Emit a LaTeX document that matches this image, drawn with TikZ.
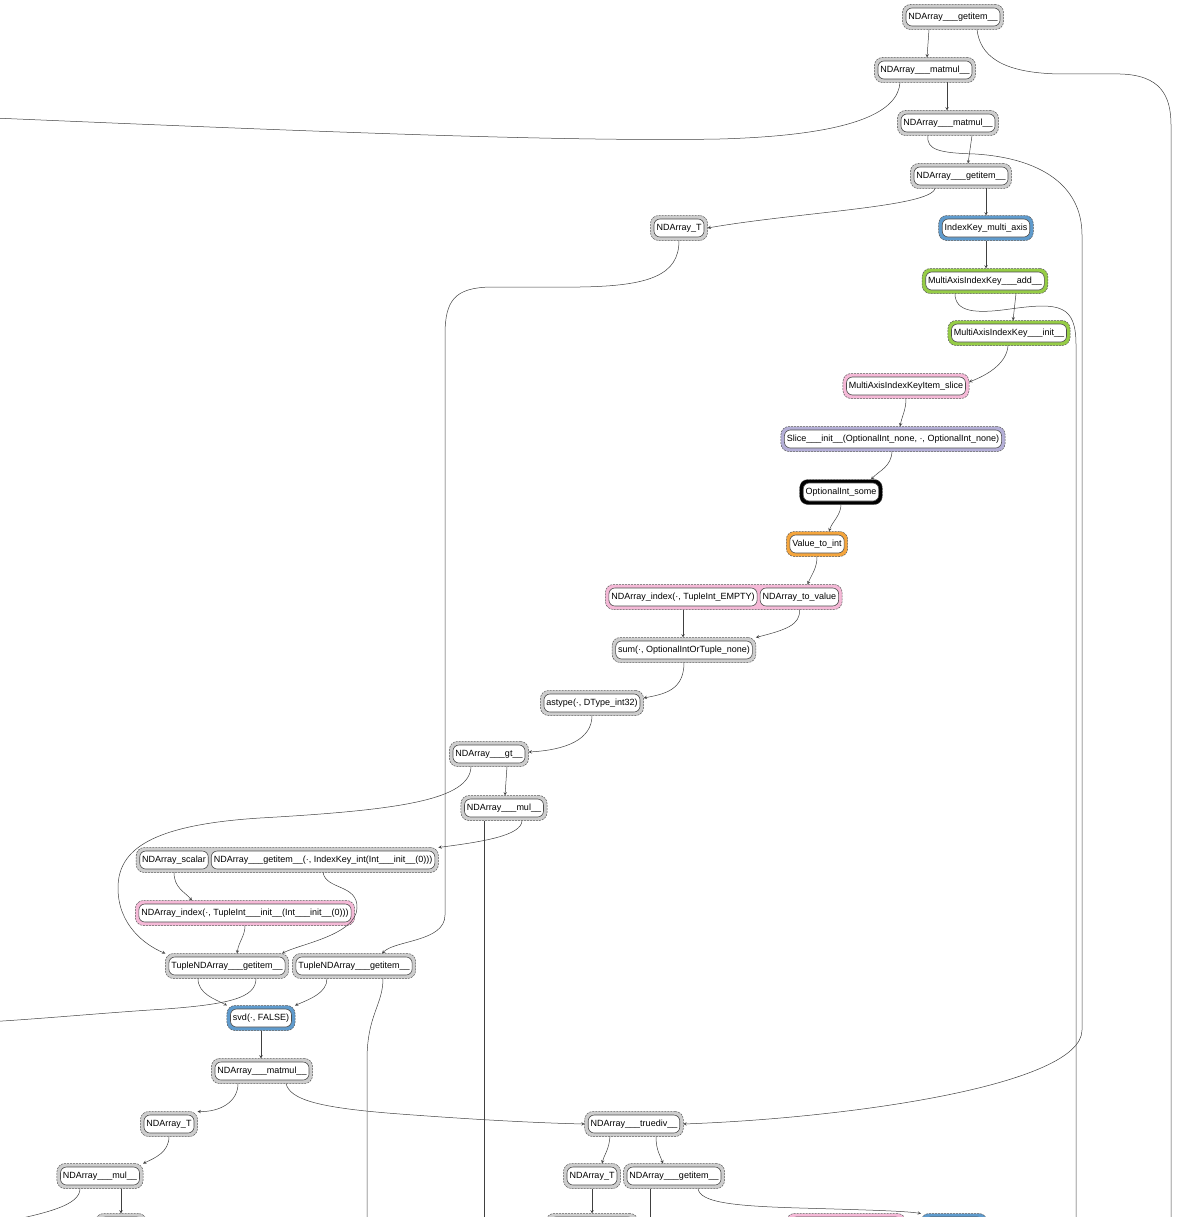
\documentclass[tikz,border=0pt]{standalone}
\usepackage{fontspec}
\setmainfont{Liberation Sans}
\usepackage{tikz}
\usetikzlibrary{arrows, positioning, fit, backgrounds}
\definecolor{clgrey}{RGB}{205,205,205}
\definecolor{clblue}{RGB}{95,155,205}
\definecolor{clgreen}{RGB}{150,205,70}
\definecolor{clpink}{RGB}{245,185,215}
\definecolor{clpurple}{RGB}{180,175,215}
\definecolor{clorange}{RGB}{245,165,60}
\tikzstyle{fn} = [rectangle, rounded corners=6pt, minimum height=18pt, inner xsep=2.5pt, inner ysep=2pt, outer sep=3.5pt, draw=black!70, line width=0.6pt, fill=white]
\tikzstyle{clus} = [rectangle, rounded corners=8pt, inner sep=0pt, draw=black!65, line width=0.5pt, dash pattern=on 2pt off 1pt]
\tikzstyle{arrow} = [->,>=stealth, draw=black!75, line width=0.5pt]

\begin{document}
\begin{tikzpicture}[x=1pt, y=-1pt, font=\fontsize{9}{11}\selectfont]
\useasboundingbox (0,0) rectangle (1201,1217);
\clip (0,0) rectangle (1201,1217);
% nodes
\node (g1) [fn] at (953,17) {NDArray\_\_\_getitem\_\_};
\node (m1) [fn] at (925,70) {NDArray\_\_\_matmul\_\_};
\node (m2) [fn] at (948,123) {NDArray\_\_\_matmul\_\_};
\node (g2) [fn] at (961,176) {NDArray\_\_\_getitem\_\_};
\node (T1) [fn] at (679,228) {NDArray\_T};
\node (ik) [fn] at (986,228) {IndexKey\_multi\_axis};
\node (add) [fn] at (985,281) {MultiAxisIndexKey\_\_\_add\_\_};
\node (init) [fn] at (1009,333) {MultiAxisIndexKey\_\_\_init\_\_};
\node (slice) [fn] at (906,386) {MultiAxisIndexKeyItem\_slice};
\node (sl) [fn] at (893,439) {Slice\_\_\_init\_\_(OptionalInt\_none, ·, OptionalInt\_none)};
\node (opt) [fn] at (841,492) {OptionalInt\_some};
\node (vti) [fn] at (817,544) {Value\_to\_int};
\node (idx) [fn] at (683,597) {NDArray\_index(·, TupleInt\_EMPTY)};
\node (tov) [fn, right=-4pt of idx] {NDArray\_to\_value};
\node (sum) [fn] at (684,650) {sum(·, OptionalIntOrTuple\_none)};
\node (astype) [fn] at (592,703) {astype(·, DType\_int32)};
\node (gt) [fn] at (489,754) {NDArray\_\_\_gt\_\_};
\node (mul1) [fn] at (504,808) {NDArray\_\_\_mul\_\_};
\node (scalar) [fn] at (174,860) {NDArray\_scalar};
\node (gi) [fn, right=-4pt of scalar] {NDArray\_\_\_getitem\_\_(·, IndexKey\_int(Int\_\_\_init\_\_(0)))};
\node (idx2) [fn] at (245,913) {NDArray\_index(·, TupleInt\_\_\_init\_\_(Int\_\_\_init\_\_(0)))};
\node (tg1) [fn] at (227,966) {TupleNDArray\_\_\_getitem\_\_};
\node (tg2) [fn] at (354,966) {TupleNDArray\_\_\_getitem\_\_};
\node (svd) [fn] at (261,1018) {svd(·, FALSE)};
\node (m3) [fn] at (262,1071) {NDArray\_\_\_matmul\_\_};
\node (T2) [fn] at (169,1124) {NDArray\_T};
\node (td) [fn] at (634,1124) {NDArray\_\_\_truediv\_\_};
\node (mul2) [fn] at (100,1176) {NDArray\_\_\_mul\_\_};
\node (T3) [fn] at (592,1176) {NDArray\_T};
\node (g3) [fn] at (674,1176) {NDArray\_\_\_getitem\_\_};
\node (p1) [fn, minimum width=44pt] at (121,1226) {};
\node (p2) [fn, minimum width=85pt] at (592,1226) {};
\node (p3) [fn, minimum width=112pt] at (846,1226) {};
\node (p4) [fn, minimum width=59pt] at (954,1226) {};
% ends outside the picture
\coordinate (outA) at (1171,1245);
\coordinate (outB) at (-30,117);
\coordinate (outC) at (1076,1245);
\coordinate (outD) at (484,1245);
\coordinate (outE) at (-30,1023);
\coordinate (outF) at (367,1245);
\coordinate (outG) at (-30,1228);
\coordinate (outH) at (650,1245);
% clusters
\begin{scope}[on background layer]
\clip (0,0) rectangle (1201,1217);
\foreach \n/\c in {g1/clgrey, m1/clgrey, m2/clgrey, g2/clgrey, T1/clgrey, ik/clblue, add/clgreen, init/clgreen, slice/clpink, sl/clpurple, opt/black, vti/clorange, sum/clgrey, astype/clgrey, gt/clgrey, mul1/clgrey, idx2/clpink, tg1/clgrey, tg2/clgrey, svd/clblue, m3/clgrey, T2/clgrey, td/clgrey, mul2/clgrey, T3/clgrey, g3/clgrey, p1/clgrey, p2/clgrey, p3/clpink, p4/clblue}
  \node [clus, fill=\c, fit=(\n)] {};
\node [clus, fill=clpink, fit=(idx)(tov)] {};
\node [clus, fill=clgrey, fit=(scalar)(gi)] {};
\end{scope}
% edges
\draw [arrow] ([xshift=-24pt]g1.south) -- ([xshift=2pt]m1.north);
\draw [arrow] ([xshift=24pt]g1.south) .. controls (980,55) and (1000,73) .. (1060,74) -- (1120,74) .. controls (1160,75) and (1171,95) .. (1171,125) -- (outA);
\draw [arrow] ([xshift=-25pt]m1.south) .. controls (898,110) and (860,135) .. (720,139) .. controls (560,142) and (300,131) .. (outB);
\draw [arrow] ([xshift=22pt]m1.south) -- ([xshift=-1pt]m2.north);
\draw [arrow] ([xshift=24pt]m2.south) -- ([xshift=7pt]g2.north);
\draw [arrow] ([xshift=-20pt]m2.south) .. controls (926,150) and (940,153) .. (975,154) .. controls (1040,158) and (1082,185) .. (1082,235) -- (1082,1030) .. controls (1082,1085) and (850,1118) .. (td.east);
\draw [arrow] ([xshift=-26pt]g2.south) .. controls (930,207) and (800,212) .. (T1.east);
\draw [arrow] ([xshift=25pt]g2.south) -- (ik.north);
\draw [arrow] (T1.south) .. controls (679,275) and (650,286) .. (580,287) -- (490,287) .. controls (455,288) and (445,300) .. (445,335) -- (445,915) .. controls (445,942) and (395,940) .. ([xshift=28pt]tg2.north);
\draw [arrow] (ik.south) -- ([xshift=1pt]add.north);
\draw [arrow] ([xshift=31pt]add.south) -- ([xshift=4pt]init.north);
\draw [arrow] ([xshift=-30pt]add.south) .. controls (955,312) and (975,314) .. (1010,309) .. controls (1060,302) and (1076,305) .. (1076,345) -- (outC);
\draw [arrow] ([xshift=-1pt]init.south) .. controls (1007,362) and (990,374) .. ([yshift=4pt]slice.east);
\draw [arrow] (slice.south) .. controls (906,410) and (902,416) .. ([xshift=7pt]sl.north);
\draw [arrow] ([xshift=-1pt]sl.south) .. controls (891,467) and (880,470) .. ([xshift=30pt]opt.north);
\draw [arrow] (opt.south) .. controls (841,515) and (832,522) .. ([xshift=12pt]vti.north);
\draw [arrow] (vti.south) .. controls (817,568) and (812,574) .. ([xshift=8pt]tov.north);
\draw [arrow] (idx.south) -- (idx.south |- sum.north);
\draw [arrow] (tov.south) .. controls (801,625) and (785,630) .. (sum.north east);
\draw [arrow] (sum.south) .. controls (684,690) and (665,694) .. ([yshift=5pt]astype.east);
\draw [arrow] (astype.south) .. controls (592,740) and (565,750) .. ([yshift=2pt]gt.east);
\draw [arrow] ([xshift=18pt]gt.south) -- ([xshift=1pt]mul1.north);
\draw [arrow] ([xshift=-18pt]gt.south) .. controls (470,800) and (400,810) .. (260,818) .. controls (150,825) and (118,850) .. (118,888) .. controls (118,925) and (145,945) .. (tg1.north west);
\draw [arrow] ([xshift=18pt]mul1.south) .. controls (522,836) and (480,842) .. (gi.north east);
\draw [arrow] ([xshift=-20pt]mul1.south) -- (outD);
\draw [arrow] (scalar.south) .. controls (174,888) and (185,892) .. ([xshift=-53pt]idx2.north);
\draw [arrow] (gi.south) .. controls (326,890) and (358,884) .. (357,908) .. controls (356,935) and (300,944) .. ([xshift=55pt]tg1.north);
\draw [arrow] (idx2.south) .. controls (245,936) and (239,941) .. ([xshift=10pt]tg1.north);
\draw [arrow] ([xshift=-29pt]tg1.south) .. controls (198,994) and (215,999) .. (svd.north west);
\draw [arrow] ([xshift=29pt]tg1.south) .. controls (256,998) and (230,1005) .. (150,1010) .. controls (90,1014) and (40,1019) .. (outE);
\draw [arrow] ([xshift=-27pt]tg2.south) .. controls (327,993) and (310,999) .. (svd.north east);
\draw [arrow] ([xshift=29pt]tg2.south) .. controls (383,1005) and (367,1015) .. (367,1060) -- (outF);
\draw [arrow] (svd.south) -- (svd.south |- m3.north);
\draw [arrow] ([xshift=-24pt]m3.south) .. controls (238,1102) and (220,1112) .. (T2.north east);
\draw [arrow] ([xshift=24pt]m3.south) .. controls (290,1100) and (320,1108) .. (400,1114) .. controls (480,1120) and (540,1123) .. (td.west);
\draw [arrow] (T2.south) .. controls (169,1152) and (155,1158) .. (mul2.north east);
\draw [arrow] ([xshift=-24pt]td.south) .. controls (609,1150) and (604,1155) .. ([xshift=10pt]T3.north);
\draw [arrow] ([xshift=22pt]td.south) .. controls (656,1150) and (660,1155) .. ([xshift=-11pt]g3.north);
\draw [arrow] ([xshift=-20pt]mul2.south) .. controls (80,1205) and (50,1214) .. (outG);
\draw [arrow] ([xshift=21pt]mul2.south) -- (p1.north);
\draw [arrow] (T3.south) -- (T3.south |- p2.north);
\draw [arrow] ([xshift=-24pt]g3.south) -- (outH);
\draw [arrow] ([xshift=24pt]g3.south) .. controls (700,1202) and (730,1206) .. (800,1208) .. controls (870,1210) and (905,1211) .. (p4.north west);
\end{tikzpicture}
\end{document}
